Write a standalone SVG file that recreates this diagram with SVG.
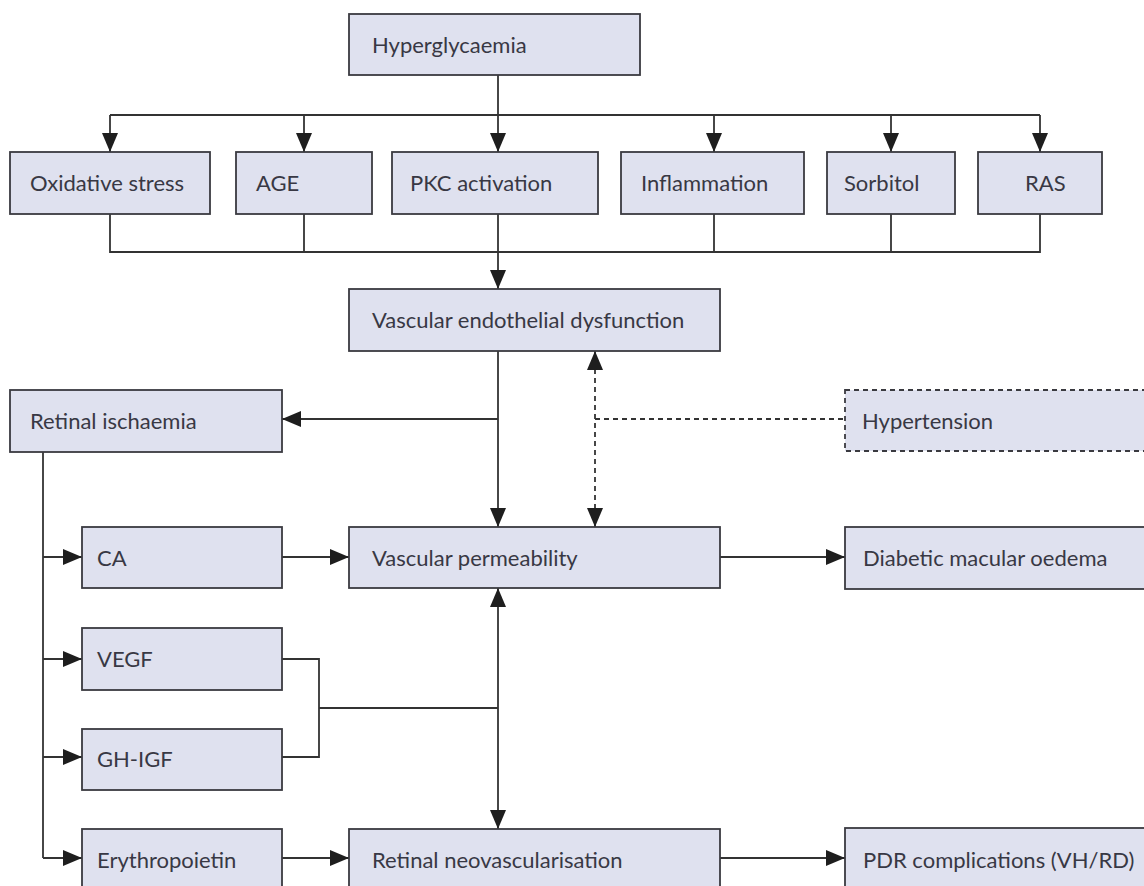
<svg xmlns="http://www.w3.org/2000/svg" width="1144" height="886" viewBox="0 0 1144 886">
<style>
.box{fill:#dfe1ef;stroke:#3a3a40;stroke-width:1.8}
.dbox{fill:#dfe1ef;stroke:#3a3a40;stroke-width:1.8;stroke-dasharray:5,4}
.t{font-family:Lato,"Open Sans",sans-serif;font-size:22px;fill:#383844}
.ln{fill:none;stroke:#333;stroke-width:1.8}
.dl{fill:none;stroke:#333;stroke-width:1.8;stroke-dasharray:5,4}
</style>
<defs>
<marker id="ah" markerUnits="userSpaceOnUse" markerWidth="20" markerHeight="18" refX="19" refY="9" orient="auto-start-reverse" viewBox="0 0 20 18">
<path d="M0,1 L19,9 L0,17 z" fill="#1e1e1e"/>
</marker>
</defs>
<rect width="1144" height="886" fill="#ffffff"/>
<g id="connectors">
<path class="ln" d="M498,75 V152" marker-end="url(#ah)"/>
<path class="ln" d="M110,115 H1040"/>
<path class="ln" d="M110,115 V152" marker-end="url(#ah)"/>
<path class="ln" d="M304,115 V152" marker-end="url(#ah)"/>
<path class="ln" d="M714,115 V152" marker-end="url(#ah)"/>
<path class="ln" d="M891,115 V152" marker-end="url(#ah)"/>
<path class="ln" d="M1040,115 V152" marker-end="url(#ah)"/>
<path class="ln" d="M110,214 V252 H1040 V214 M304,214 V252 M714,214 V252 M891,214 V252"/>
<path class="ln" d="M498,214 V289" marker-end="url(#ah)"/>
<path class="ln" d="M498,351 V527" marker-end="url(#ah)"/>
<path class="ln" d="M498,419 H282" marker-end="url(#ah)"/>
<path class="dl" d="M595,351 V527" marker-start="url(#ah)" marker-end="url(#ah)"/>
<path class="dl" d="M595,419 H845"/>
<path class="ln" d="M43,452 V858"/>
<path class="ln" d="M43,557 H82" marker-end="url(#ah)"/>
<path class="ln" d="M43,659 H82" marker-end="url(#ah)"/>
<path class="ln" d="M43,757 H82" marker-end="url(#ah)"/>
<path class="ln" d="M43,858 H82" marker-end="url(#ah)"/>
<path class="ln" d="M282,557 H349" marker-end="url(#ah)"/>
<path class="ln" d="M720,557 H845" marker-end="url(#ah)"/>
<path class="ln" d="M282,659 H319 V757 H282 M319,708 H498"/>
<path class="ln" d="M498,588 V829" marker-start="url(#ah)" marker-end="url(#ah)"/>
<path class="ln" d="M282,858 H349" marker-end="url(#ah)"/>
<path class="ln" d="M720,858 H845" marker-end="url(#ah)"/>
</g>
<g id="hyperglycaemia"><rect class="box" x="349" y="14" width="291" height="61"/><text class="t" x="372" y="53">Hyperglycaemia</text></g>
<g id="oxidative"><rect class="box" x="10" y="152" width="200" height="62"/><text class="t" x="30" y="191">Oxidative stress</text></g>
<g id="age"><rect class="box" x="236" y="152" width="136" height="62"/><text class="t" x="256" y="191">AGE</text></g>
<g id="pkc"><rect class="box" x="392" y="152" width="206" height="62"/><text class="t" x="410" y="191">PKC activation</text></g>
<g id="inflammation"><rect class="box" x="621" y="152" width="183" height="62"/><text class="t" x="641" y="191">Inflammation</text></g>
<g id="sorbitol"><rect class="box" x="827" y="152" width="128" height="62"/><text class="t" x="844" y="191">Sorbitol</text></g>
<g id="ras"><rect class="box" x="978" y="152" width="124" height="62"/><text class="t" x="1025" y="191">RAS</text></g>
<g id="ved"><rect class="box" x="349" y="289" width="371" height="62"/><text class="t" x="372" y="328">Vascular endothelial dysfunction</text></g>
<g id="retinal-ischaemia"><rect class="box" x="10" y="390" width="272" height="62"/><text class="t" x="30" y="429">Retinal ischaemia</text></g>
<g id="hypertension"><rect class="dbox" x="845" y="390" width="310" height="61"/><text class="t" x="862" y="429">Hypertension</text></g>
<g id="ca"><rect class="box" x="82" y="527" width="200" height="61"/><text class="t" x="97" y="566">CA</text></g>
<g id="vp"><rect class="box" x="349" y="527" width="371" height="61"/><text class="t" x="372" y="566">Vascular permeability</text></g>
<g id="dmo"><rect class="box" x="845" y="527" width="310" height="62"/><text class="t" x="863" y="566">Diabetic macular oedema</text></g>
<g id="vegf"><rect class="box" x="82" y="628" width="200" height="62"/><text class="t" x="97" y="667">VEGF</text></g>
<g id="ghigf"><rect class="box" x="82" y="729" width="200" height="61"/><text class="t" x="97" y="767">GH-IGF</text></g>
<g id="epo"><rect class="box" x="82" y="829" width="200" height="70"/><text class="t" x="97" y="868">Erythropoietin</text></g>
<g id="rn"><rect class="box" x="349" y="829" width="371" height="70"/><text class="t" x="372" y="868">Retinal neovascularisation</text></g>
<g id="pdr"><rect class="box" x="845" y="828" width="310" height="70"/><text class="t" x="863" y="868">PDR complications (VH/RD)</text></g>
</svg>
